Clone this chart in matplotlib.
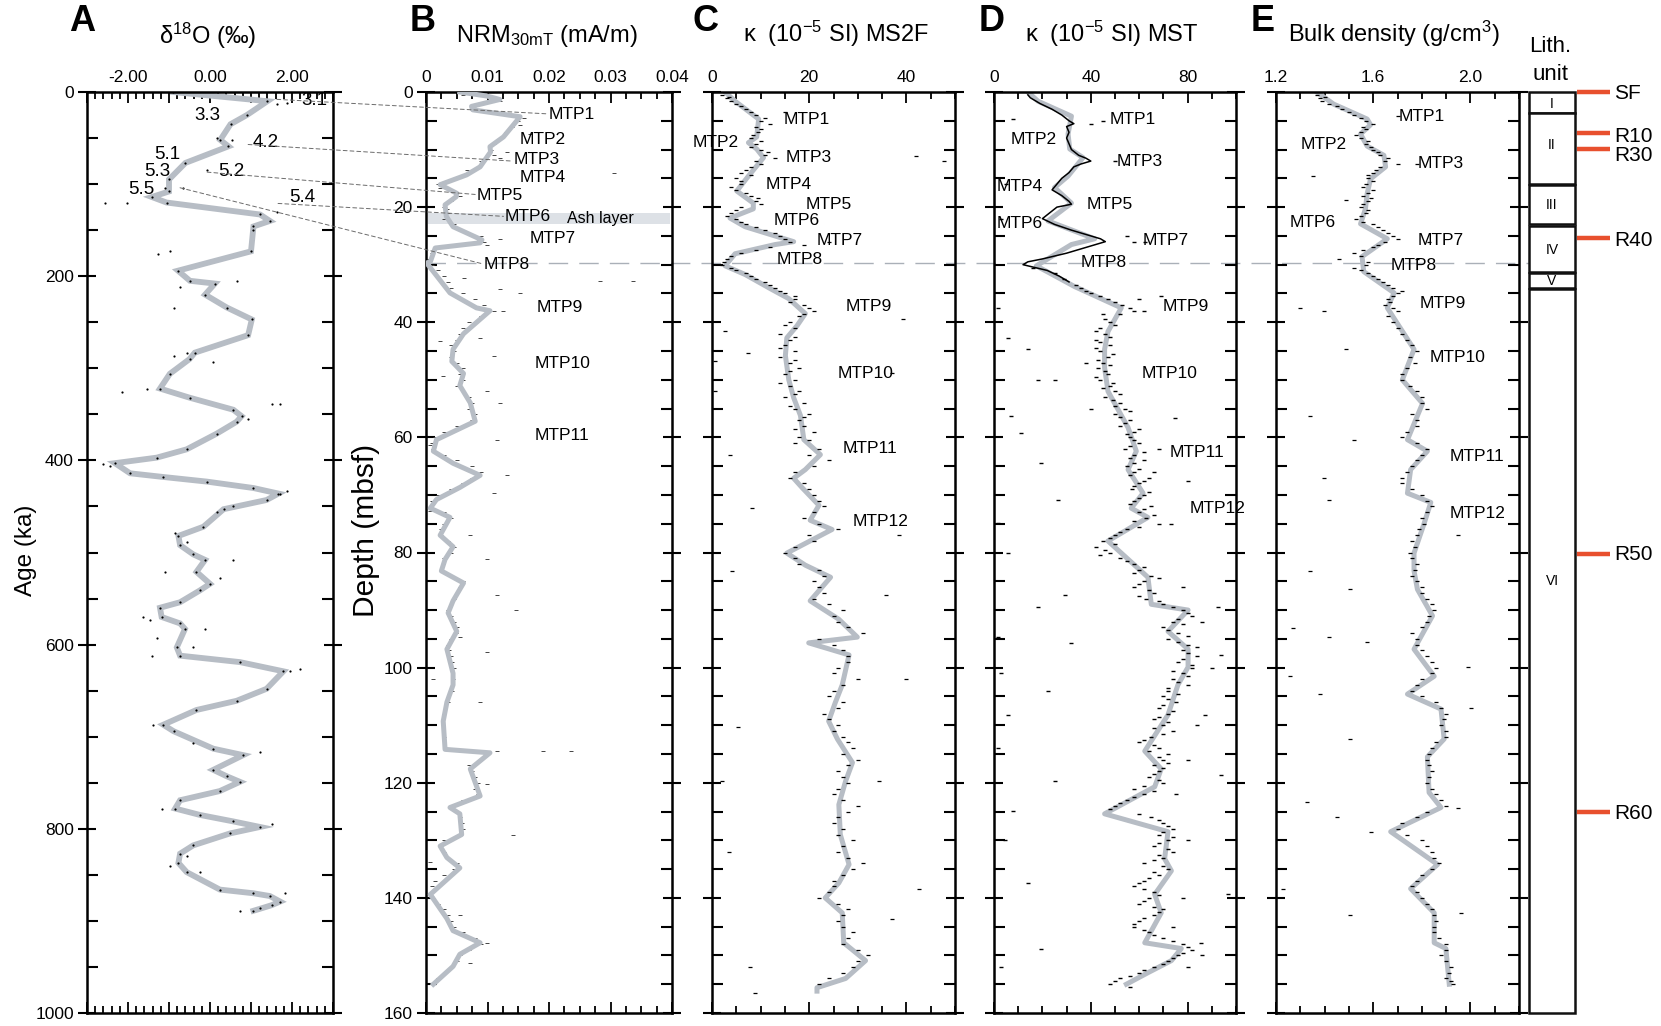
import matplotlib
matplotlib.use('Agg')
import matplotlib.pyplot as plt
from matplotlib.ticker import MultipleLocator, FuncFormatter
from matplotlib.patches import Rectangle, ConnectionPatch
from matplotlib.lines import Line2D

plt.rcParams['font.family'] = ['Liberation Sans', 'DejaVu Sans']
plt.rcParams['mathtext.fontset'] = 'custom'
plt.rcParams['mathtext.rm'] = 'Liberation Sans'
plt.rcParams['mathtext.it'] = 'Liberation Sans:italic'
plt.rcParams['mathtext.bf'] = 'Liberation Sans:bold'

# ---------------- DATA ----------------
# Panel A: benthic d18O vs age (smoothed curve, ka, permil)
a_curve = [(0,-0.9),(10,1.4),(25,0.9),(35,0.5),(52,0.25),(59,0.45),(77,-0.6),(95,-1.0),(108,-1.0),
           (114,-1.42),(120,-1.06),(133,1.22),(140,1.46),(146,1.06),(173,1.0),(194,-0.78),(205,-0.49),
           (208,0.12),(220,-0.12),(234,0.41),(247,1.02),(264,0.93),(283,-0.37),(290,-0.5),(306,-0.98),
           (322,-1.22),(332,-0.49),(345,0.57),(352,0.77),(358,0.65),(371,0.16),(388,-0.57),(397,-1.30),
           (403,-2.32),(414,-1.95),(418,-1.14),(423,-0.08),(430,1.06),(436,1.67),(443,1.38),(453,0.33),
           (472,-0.16),(482,-0.77),(492,-0.73),(502,-0.41),(508,-0.12),(521,-0.33),(534,0.0),(541,-0.24),
           (554,-0.73),(560,-1.22),(570,-1.18),(577,-0.73),(583,-0.61),(603,-0.81),(612,-0.73),(619,0.73),
           (629,1.79),(648,1.38),(661,0.65),(671,-0.33),(687,-1.14),(694,-0.89),(713,0.08),(720,0.81),
           (736,0.08),(743,0.41),(749,0.73),(759,0.24),(769,-0.73),(778,-0.85),(785,-0.24),(792,0.57),
           (798,1.22),(805,0.49),(818,-0.41),(827,-0.73),(837,-0.77),(847,-0.57),(866,0.24),(870,1.06),
           (873,1.46),(879,1.71),(883,1.50),(889,1.06)]
a_dots = [(13,1.63),(12,1.87),(52,0.53),(50,0.16),(85,-0.08),(104,-1.1),(104,-0.65),(120,-2.56),(120,-2.03),
          (130,1.63),(150,1.06),(176,-1.26),(173,-0.97),(205,0.65),(212,-0.73),(234,-0.89),(283,-0.57),
          (287,-0.89),(293,0.08),(322,-1.54),(326,-2.15),(339,1.5),(339,1.71),(355,0.93),(404,-2.6),
          (406,-2.44),(433,1.87),(436,1.71),(449,0.57),(456,0.16),(479,-0.85),(489,-0.57),(508,0.57),
          (521,-1.1),(528,0.24),(570,-1.63),(573,-1.46),(583,-0.12),(593,-1.3),(603,-0.41),(612,-1.42),
          (629,1.95),(627,2.2),(687,-1.38),(707,-0.41),(717,1.22),(778,-1.18),(795,1.5),(830,-0.57),
          (840,-0.98),(847,-0.24),(870,1.83),(889,0.73),(886,1.22)]
a_stage_labels = ['3.1', '3.3', '4.2', '5.1', '5.3', '5.2', '5.5', '5.4']
a_stage_pos = [(2.24,8.7),(-0.39,25),(1.05,55),(-1.37,68),(-1.61,86),(0.2,86),(-2.0,106),(1.93,115)]

# Panel B: NRM30mT (mA/m) vs depth (mbsf)
b_curve = [(0,0.0055),(0.7,0.0099),(1.3,0.012),(2.5,0.0074),(3.1,0.0076),(4.3,0.0153),(7.8,0.0126),
           (9.5,0.0104),(10.4,0.0105),(13,0.0088),(14.4,0.0066),(16.1,0.0023),(17.6,0.005),(18.2,0.0049),
           (19.6,0.0031),(21.6,0.0033),(23.4,0.0044),(25.7,0.0091),(26.2,0.0088),(27.1,0.0015),
           (29.5,0.0007),(29.7,0.0001),(34.9,0.0039),(37.5,0.0082),(38,0.0104),(42,0.0061),(44.7,0.0044),
           (46.8,0.0042),(48.9,0.0061),(51,0.0055),(54,0.0072),(57.2,0.008),(60.4,0.0017),(62.4,0.0012),
           (64.5,0.0044),(66.6,0.0088),(68.7,0.0055),(70.8,0.0017),(72.3,0.0007),(73.9,0.0039),(77,0.0023),
           (79,0.0044),(81.2,0.0031),(83.2,0.0025),(85.3,0.0061),(88.4,0.0044),(90.5,0.0036),(93.7,0.005),
           (96.8,0.0034),(101,0.0044),(103,0.0044),(106,0.0034),(109.3,0.0028),(114.2,0.0031),(114.8,0.0104),
           (117.6,0.0072),(122.3,0.0088),(124.3,0.0039),(125.4,0.0055),(129,0.0058),(131,0.0023),
           (133,0.0034),(134.8,0.0055),(139.4,0.0007),(143.6,0.0034),(145.7,0.0044),(147.8,0.0088),
           (149.8,0.0055),(151.9,0.0044),(155,0.0012)]
b_dots = [(0.5,0.006),(1,0.011),(1.5,0.012),(2,0.009),(3,0.008),(3.1,0.0099),(4,0.014),(4.5,0.016),(5,0.015),
          (5.7,0.0153),(6,0.014),(7,0.013),(7.3,0.0169),(8,0.012),(9,0.011),(10,0.0105),(10.4,0.0131),
          (11,0.011),(11.4,0.012),(12,0.009),(13,0.0085),(13.5,0.0066),(14,0.007),(14,0.0305),(15,0.005),
          (16,0.002),(16.6,0.0023),(17,0.004),(18,0.0055),(19,0.004),(20,0.003),(20.3,0.0034),(21,0.0035),
          (22,0.003),(23,0.0045),(23.9,0.0055),(24,0.006),(25,0.009),(25.5,0.012),(26,0.0095),(26.5,0.0099),
          (27,0.003),(28,0.001),(29,0.0005),(29.1,0.0007),(30,0.001),(31,0.002),(32,0.003),(32.3,0.0061),
          (32.8,0.0337),(32.8,0.0283),(33,0.0035),(34,0.004),(34.3,0.012),(34.9,0.0153),(35,0.006),(36,0.008),
          (37,0.0095),(38,0.011),(38,0.0126),(39,0.009),(40,0.007),(41,0.006),(42,0.0055),(42.7,0.0088),
          (43,0.005),(43.2,0.0023),(44,0.004),(45,0.0045),(45.8,0.011),(46,0.004),(47,0.005),(48,0.006),
          (49,0.0055),(49.4,0.0028),(50,0.006),(51,0.005),(52,0.006),(52,0.0099),(53,0.007),(54,0.0075),
          (54.1,0.012),(55,0.007),(56,0.008),(57,0.0075),(58,0.005),(59,0.003),(60,0.0015),(60.4,0.0115),
          (61,0.001),(61.4,0.0007),(62,0.0012),(63,0.003),(64,0.005),(65,0.0075),(66,0.009),(66.6,0.0131),
          (67,0.0075),(68,0.006),(69,0.004),(69.7,0.011),(70,0.002),(71,0.001),(72,0.0008),(72.8,0.0007),
          (73,0.003),(74,0.004),(75,0.003),(76,0.0025),(77,0.0025),(77,0.0072),(78,0.0035),(79,0.0045),
          (80,0.004),(81,0.003),(81.2,0.0099),(82,0.0028),(83,0.0025),(84,0.004),(85,0.006),(86,0.0055),
          (87,0.005),(87.4,0.0115),(88,0.0045),(89,0.004),(90,0.0035),(90,0.0147),(91,0.004),(92,0.0045),
          (93,0.005),(94,0.0048),(94.7,0.0055),(95,0.004),(96,0.0035),(97,0.0038),(97.3,0.0099),(98,0.004),
          (99,0.0042),(100,0.0045),(102,0.0044),(102,0.0012),(104,0.0042),(106,0.0035),(106,0.0088),
          (108,0.003),(110,0.0028),(112,0.003),(114,0.0032),(114.5,0.0191),(114.5,0.0235),(114.5,0.0115),
          (115,0.01),(116,0.009),(117,0.007),(118,0.0075),(119,0.008),(120,0.0085),(120.2,0.0099),(121,0.008),
          (122,0.0085),(123,0.006),(124,0.004),(125,0.005),(126,0.0056),(127,0.0058),(128,0.006),(129,0.0055),
          (129,0.0142),(130,0.003),(131,0.0025),(132,0.003),(133,0.0035),(133.7,0.0007),(134,0.005),
          (135,0.0045),(136,0.003),(137,0.0015),(138,0.001),(139,0.0008),(140,0.0012),(141,0.002),(142,0.003),
          (143,0.0035),(143,0.0055),(144,0.004),(145,0.0045),(146,0.006),(147,0.008),(147.8,0.0099),
          (148,0.009),(149,0.007),(150,0.0055),(151,0.005),(151.4,0.0072),(152,0.004),(153,0.003),
          (154,0.002),(155,0.0012)]
b_mtp_labels = ['MTP1','MTP2','MTP3','MTP4','MTP5','MTP6','MTP7','MTP8','MTP9','MTP10','MTP11']
b_mtp_pos = [(0.0200,3.85),(0.0153,8.3),(0.0142,11.8),(0.0153,14.9),(0.0082,18.0),(0.0128,21.7),
             (0.0169,25.5),(0.0093,29.9),(0.0180,37.5),(0.0177,47.1),(0.0177,59.6)]
ash_layer = (21.1, 23.0)

# Panel C: magnetic susceptibility MS2F (1e-5 SI) vs depth
c_curve = [(0,2.7),(1.6,4.75),(4.7,9.6),(7.8,9.2),(8.8,7.5),(9.9,9.2),(11.4,10.6),(14.6,7.5),(17.2,5.1),
           (19.3,8.5),(20.3,8.5),(21.9,3.7),(23.4,6.8),(26.0,16.8),(26.5,13.0),(28.1,4.75),(30.2,2.7),
           (31.7,6.8),(34.3,12.3),(35.9,15.8),(38.5,19.2),(40.6,17.5),(42.7,15.4),(45.8,15.1),(50,15.8),
           (53.1,16.8),(56.2,18.2),(60.4,18.9),(63,22.3),(65.6,19.2),(67.1,16.8),(68.7,18.5),(71.8,22.0),
           (74.4,20.2),(76,24.7),(80.1,15.4),(82.2,19.2),(84.3,24.4),(88.4,20.2),(91.6,26.1),(94.7,29.9),
           (95.7,19.9),(97.8,28.2),(103,26.8),(106,25.4),(109.3,24.0),(112.4,25.8),(116.5,28.9),
           (119.7,27.5),(123.8,26.1),(129,26.4),(134.2,28.2),(137.4,26.1),(140,23.3),(142.6,26.8),
           (147.8,27.1),(150.9,31.6),(154,27.5),(155.6,21.6),(156.2,21.6)]
c_dots = [(0.5,2),(1,3),(1.5,4),(2,5),(3,7),(3.5,15),(4,9),(5,10),(5.5,12),(6,9),(7,9.5),(8,8),(9,9),(10,10),
          (11,11),(11.2,42),(12,47.7),(11.5,13),(12,9),(13,8),(14,6),(15,5),(16,6),(17,5),(18,8),(19,9),
          (19.5,10),(20,6),(21,4),(22,5),(23,7),(24,11),(25,14),(26,16),(26.5,19),(26,24),(27,12),(28,6),
          (29,3),(30,2),(31,5),(32,8),(33,11),(34,13),(35,15),(36,17),(37,19),(38,21),(39,18),(39.5,39.2),
          (40,16),(41,17),(41.6,2.7),(42,14),(43,16),(44,15),(45,17),(45.3,7.5),(46,14),(46.8,0.6),(47,16),
          (48,18),(48.9,37.1),(49,15),(50,17),(51,16),(52,18),(52,0.6),(53,15),(54,19),(55,17),(56,20),
          (57,18),(58,19),(59,21),(60,18),(62,22),(62.4,29.5),(63,3.7),(64,24),(66,17),(68,19),(70,21),
          (72,23),(72.3,8.2),(74,19),(76,26),(77,38.5),(78,21),(80,15),(82,18),(83.2,4.1),(84,23),(86,22),
          (87.4,35.7),(88,21),(90,27),(92,26),(94,31),(96,25),(98,28),(100,26),(102,30),(102,39.9),(104,25),
          (106,27),(108,23),(110,26),(110.3,5.4),(112,27),(114,29),(116,30),(118,26),(119.7,2),(119.7,34.4),
          (120,28),(122,25),(124,30),(126,26),(128,27),(130,29),(132,26),(132,3.4),(134,31),(136,27),
          (138,25),(138.4,42.6),(140,22),(142,28),(143.6,37.1),(144,26),(146,29),(148,27),(150,32),(152,29),
          (152,7.9),(154,24),(155,22),(156.6,8.9),
          (0.8,3.5),(2.5,6),(3.5,8),(4.5,11),(6.5,10),(7.5,8.5),(8.5,10),(9.5,8),(10.5,11.5),(12.5,10),
          (13.5,7),(14.5,8),(15.5,6),(16.5,4),(17.5,7),(18.5,9.5),(20.5,5),(21.5,3),(22.5,6),(23.5,9),
          (24.5,13),(25.5,15),(27.5,9),(28.5,4),(29.5,2.5),(30.5,4),(31.5,7),(32.5,9),(33.5,12),(34.5,14),
          (35.5,17),(36.5,16),(37.5,20),(38.5,19),(40.5,15),(42.5,17),(44.5,14),(46.5,17),(48.5,16),
          (50.5,14),(52.5,17),(54.5,16),(56.5,19),(58.5,17),(60.5,20),(61,17),(63,20),(65,21),(67,16),
          (69,20),(71,22),(73,21),(75,22),(77,20),(79,17),(81,17),(83,22),(85,21),(87,23),(89,24),(91,25),
          (93,28),(95,22),(97,27),(99,28),(101,25),(103,27),(105,24),(107,26),(109,24),(111,25),(113,28),
          (115,27),(117,28),(119,27),(121,26),(123,27),(125,28),(127,25),(129,26),(131,27),(133,28),
          (135,29),(137,25),(139,24),(141,26),(143,27),(145,27),(147,28),(149,30),(151,30),(153,27)]
c_mtp_labels = ['MTP1','MTP2','MTP3','MTP4','MTP5','MTP6','MTP7','MTP8','MTP9','MTP10','MTP11','MTP12']
c_mtp_pos = [(14.7,4.7),(-3.9,8.7),(15.1,11.4),(11.0,16.1),(19.2,19.6),(12.7,22.4),(21.6,25.8),
             (13.4,29.1),(27.5,37.3),(25.8,48.9),(26.8,61.9),(28.9,74.7)]

# Panel D: magnetic susceptibility MST (1e-5 SI) vs depth
d_curve = [(0,14),(1.6,18.2),(4.2,32),(7.3,30.6),(9.9,31.3),(11.4,36.8),(14.6,30.6),(16.6,25),(19.3,32),
           (22.4,22.3),(25.5,41.6),(26.5,32),(30.2,17.5),(33.8,33.3),(37.5,52.6),(41.6,47.1),(44.7,45.7),
           (47.9,45.7),(52,47.1),(58.3,55.4),(62.4,58.8),(65.6,55.4),(69.7,61.6),(72.3,56.7),(73.9,63.6),
           (78,47.1),(84.3,63.6),(89,65),(90,80.2),(93.7,71.9),(96.8,80.2),(99.9,80.2),(103,76),(108.2,71.9),
           (114.5,62.3),(117.6,69.1),(120.7,66.4),(125.4,45.7),(128.5,71.9),(133.2,70.5),(135.3,73.3),
           (139.4,66.4),(142.6,69.1),(147.8,62.3),(148.8,77.4),(150.9,73.3),(153,63.6),(155,54.7)]
# upper (0-30 m) nearly continuous measurement trace
d_trace = [(0.5,14),(1,15),(2,19),(3,24),(4,28),(5,31),(5.5,33),(6,30),(7,31),(8,30),(9,31),(10,32),(11,35),
           (11.5,38),(12,40),(12.5,36),(13,33),(14,31),(15,28),(16,26),(17,24),(18,28),(19,31),(19.5,32),
           (20,26),(21,23),(22,20),(23,25),(24,32),(25,40),(25.5,44),(26,46),(26.5,42),(27,38),(28,30),
           (29,20),(29.5,14),(30,12),(31,22),(32,27),(33,31)]
d_dots = [(37.5,1.7),(42.7,5.8),(44.7,14),(50,18.2),(50,25),(56.2,7.2),(59.3,11.3),(64.5,19.6),(70.8,26.4),
          (74.9,1.7),(80.1,5.8),(87.4,29.2),(89.5,18.2),(94.7,1.7),(95.7,32),(101,3),(104,22.3),(108.2,5.8),
          (114,1.7),(119.7,25),(124.9,7.9),(130,4.4),(137.4,14),(148.8,19.6),(152,3),(89.5,92.6),(97.8,94),
          (108.2,87),(118.6,94),(147.8,85.7),(139.4,96.7),(67.6,80.2),(56.7,74.7),(35.4,69.1),(26,62.3),
          (5,45),(5.5,40),(12,50),(12.5,55),(4.7,8),(16,5),(22,3),(25,55),(26,58),(36,60),(38,62),(47,38),
          (55,40),(62,68),(66,66),(75,73),(86,78),(92,86),(100,90),(110,84),(116,80),(122,75),(130,80),
          (140,78),(145,74),(150,86),(152,80),
          (34,36),(35,40),(36,47),(37,53),(38,58),(38.5,45),(40,48),(41,44),(42,46),(43,42),(44,48),(45,44),
          (46,47),(47,45),(48,43),(49,47),(50,44),(51,48),(52,50),(53,46),(54,52),(55,54),(56,50),(57,56),
          (58,52),(59,58),(60,56),(61,60),(62,54),(63,58),(64,62),(65,55),(66,58),(67,64),(68,60),(69,57),
          (70,62),(71,58),(72,65),(73,60),(74,63),(75,68),(76,55),(77,50),(78,45),(79,42),(80,48),(81,52),
          (82,58),(83,60),(84,65),(85,62),(86,58),(87,66),(88,63),(89,70),(90,78),(91,82),(92,74),(93,70),
          (94,76),(95,72),(96,80),(97,78),(98,84),(99,76),(100,82),(101,78),(102,74),(103,80),(104,72),
          (105,70),(106,75),(107,68),(108,72),(109,66),(110,70),(111,74),(112,65),(113,60),(114,68),(115,72),
          (116,70),(117,66),(118,68),(119,64),(120,70),(121,58),(122,62),(123,55),(124,50),(126,65),(127,70),
          (128,74),(129,68),(130,72),(131,66),(132,74),(133,70),(134,62),(135,72),(136,68),(137,62),(138,58),
          (139,66),(140,64),(141,60),(142,70),(143,66),(144,60),(145,58),(146,64),(147,70),(148,78),(149,82),
          (150,76),(151,72),(152,66),(153,60),(154,52),(155,48),(155.5,56),
          (30.5,16),(31.5,25),(32.5,29),(33.5,34),(34.5,38),(35.5,44),(36.5,50),(37.5,56),(38.5,52),
          (39.5,46),(40.5,50),(41.5,42),(42.5,48),(43.5,44),(44.5,42),(45.5,49),(46.5,43),(47.5,48),
          (48.5,46),(49.5,42),(50.5,49),(51.5,45),(52.5,52),(53.5,49),(54.5,50),(55.5,56),(56.5,52),
          (57.5,54),(58.5,60),(59.5,55),(60.5,58),(61.5,56),(62.5,62),(63.5,56),(64.5,58),(65.5,60),
          (66.5,56),(67.5,62),(68.5,58),(69.5,64),(70.5,60),(71.5,56),(72.5,62),(73.5,66),(74.5,58),
          (75.5,60),(76.5,52),(77.5,48),(78.5,50),(79.5,46),(80.5,44),(81.5,55),(82.5,62),(83.5,58),
          (84.5,68),(85.5,60),(86.5,64),(87.5,60),(88.5,68),(89.5,74),(90.5,80),(91.5,76),(92.5,78),
          (93.5,72),(94.5,80),(95.5,76),(96.5,84),(97.5,80),(98.5,78),(99.5,82),(100.5,74),(101.5,80),
          (102.5,76),(103.5,72),(104.5,76),(105.5,72),(106.5,70),(107.5,74),(108.5,68),(109.5,72),
          (110.5,66),(111.5,70),(112.5,62),(113.5,66),(114.5,64),(115.5,68),(116.5,72),(117.5,70),
          (118.5,66),(119.5,68),(120.5,62),(121.5,66),(122.5,58),(123.5,52),(124.5,48),(125.5,60),
          (126.5,68),(127.5,72),(128.5,70),(129.5,74),(130.5,68),(131.5,72),(132.5,68),(133.5,66),
          (134.5,70),(135.5,66),(136.5,64),(137.5,60),(138.5,62),(139.5,68),(140.5,62),(141.5,66),
          (142.5,68),(143.5,62),(144.5,58),(145.5,62),(146.5,66),(147.5,74),(148.5,80),(149.5,78),
          (150.5,74),(151.5,70),(152.5,62),(153.5,56),(154.5,50)]
d_mtp_labels = ['MTP1','MTP2','MTP3','MTP4','MTP5','MTP6','MTP7','MTP8','MTP9','MTP10','MTP11','MTP12']
d_mtp_pos = [(47.8,4.7),(6.9,8.3),(50.6,12.0),(1.0,16.4),(38.2,19.6),(1.0,22.9),(61.6,25.8),(35.8,29.7),
             (69.8,37.3),(60.9,48.9),(72.6,62.6),(80.9,72.4)]

# Panel E: bulk density (g/cm3) vs depth
e_curve = [(0,1.368),(2.1,1.437),(4.7,1.575),(5.7,1.589),(7.3,1.548),(9.4,1.575),(11,1.644),(13,1.651),
           (15.1,1.589),(17.7,1.575),(20.3,1.568),(22.9,1.548),(25.5,1.658),(28.6,1.554),(31.2,1.561),
           (34.9,1.686),(37.5,1.658),(44.7,1.768),(50,1.72),(54.1,1.803),(60.4,1.741),(62.4,1.823),
           (65.6,1.754),(69.7,1.741),(71.3,1.837),(74.9,1.81),(80.1,1.768),(83.2,1.768),(86.4,1.782),
           (91,1.844),(96.8,1.768),(101.5,1.851),(104.6,1.741),(107.2,1.879),(112.4,1.892),(115.5,1.823),
           (121.7,1.83),(124.3,1.879),(128.5,1.672),(134.2,1.865),(138.4,1.754),(142.6,1.851),(147.8,1.851),
           (148.8,1.899),(155,1.913)]
e_dots = [(0.5,1.37),(1,1.38),(2,1.42),(3,1.47),(4,1.52),(4.2,1.70),(5,1.57),(5.5,1.6),(6,1.56),(7,1.55),
          (8,1.55),(9,1.57),(10,1.6),(11,1.63),(12,1.65),(12.5,1.7),(12.5,1.78),(13,1.63),(14,1.6),
          (14.6,1.354),(15,1.58),(16,1.57),(17,1.6),(18,1.56),(18.7,1.49),(19,1.58),(20,1.55),(21,1.57),
          (22,1.53),(23,1.6),(24,1.64),(25,1.68),(26,1.65),(26,1.83),(27,1.6),(28,1.52),(29,1.46),(29,1.78),
          (30,1.57),(31,1.55),(32,1.6),(33,1.64),(34,1.68),(35,1.7),(36,1.66),(37,1.65),(37.5,1.3),
          (38,1.7),(38,1.396),(40,1.68),(42,1.72),(44,1.76),(44.7,1.49),(46,1.75),(48,1.74),(50,1.72),
          (52,1.78),(54,1.8),(56,1.76),(56.2,1.34),(58,1.78),(60,1.72),(60.4,1.52),(62,1.82),(64,1.78),
          (66,1.74),(67.1,1.396),(68,1.72),(70,1.8),(70.8,1.42),(72,1.84),(74,1.8),(76,1.79),(77,1.948),
          (78,1.76),(80,1.75),(82,1.78),(83.2,1.34),(84,1.76),(86,1.8),(86.4,1.506),(88,1.82),(90,1.85),
          (92,1.82),(93.1,1.27),(94,1.76),(94.7,1.42),(95.5,1.575),(96,1.78),(98,1.82),(99.9,1.989),
          (100,1.86),(101.5,1.258),(102,1.8),(104,1.76),(104.6,1.382),(106,1.86),(107,2.003),(108,1.9),
          (110,1.88),(112,1.9),(112.4,1.506),(114,1.84),(116,1.82),(118,1.84),(120,1.82),(122,1.86),
          (123.3,1.327),(124,1.9),(124.3,1.948),(126,1.78),(126,1.45),(128,1.7),(128.5,1.589),(130,1.8),
          (132,1.84),(134,1.87),(136,1.8),(138,1.76),(138.4,1.23),(140,1.8),(142,1.84),(142.6,1.96),
          (143,1.506),(144,1.86),(146,1.85),(148,1.9),(150,1.88),(152,1.92),(154,1.9),(155,1.93),
          (0.8,1.40),(1.5,1.39),(2.5,1.45),(3.5,1.50),(4.5,1.55),(6.5,1.57),(7.5,1.53),(8.5,1.58),
          (9.5,1.59),(10.5,1.62),(11.5,1.66),(13.5,1.61),(14.5,1.58),(15.5,1.60),(16.5,1.56),(17.5,1.58),
          (18.5,1.59),(19.5,1.56),(20.5,1.58),(21.5,1.55),(22.5,1.56),(23.5,1.62),(24.5,1.66),(25.5,1.7),
          (26.5,1.62),(27.5,1.56),(28.5,1.55),(29.5,1.58),(30.5,1.52),(31.5,1.58),(32.5,1.62),(33.5,1.66),
          (34.5,1.72),(35.5,1.68),(36.5,1.67),(37.5,1.68),(39,1.66),(41,1.70),(43,1.74),(45,1.78),
          (47,1.77),(49,1.72),(51,1.75),(53,1.80),(55,1.82),(57,1.78),(59,1.74),(61,1.78),(63,1.80),
          (65,1.76),(67,1.72),(69,1.76),(71,1.82),(73,1.82),(75,1.81),(77,1.78),(79,1.77),(81,1.76),
          (83,1.77),(85,1.78),(87,1.80),(89,1.84),(91,1.83),(93,1.80),(95,1.78),(97,1.80),(99,1.84),
          (101,1.84),(103,1.78),(105,1.80),(107,1.88),(109,1.89),(111,1.9),(113,1.86),(115,1.83),
          (117,1.83),(119,1.83),(121,1.84),(123,1.88),(125,1.82),(127,1.72),(129,1.74),(131,1.82),
          (133,1.85),(135,1.84),(137,1.78),(139,1.78),(141,1.82),(143,1.85),(145,1.85),(147,1.87),
          (149,1.9),(151,1.9),(153,1.91),(154.5,1.92)]
e_mtp_labels = ['MTP1','MTP2','MTP3','MTP6','MTP7','MTP8','MTP9','MTP10','MTP11','MTP12']
e_mtp_pos = [(1.706,4.2),(1.302,9.1),(1.782,12.5),(1.258,22.7),(1.782,25.8),(1.672,30.2),(1.789,36.7),
             (1.834,46.1),(1.913,63.3),(1.913,73.2)]

# Lithologic units (top, bottom, label, label depth)
lith_names = ['I', 'II', 'III', 'IV', 'V', 'VI']
lith_top = [0, 3.6, 16.2, 23.2, 31.4, 34.2]
lith_bot = [3.6, 16.0, 23.0, 31.2, 34.0, 160]
lith_label_depth = [2.0, 9.2, 19.6, 27.4, 32.8, 85]
# Reflectors / seafloor
refl_names = ['SF', 'R10', 'R30', 'R40', 'R50', 'R60']
refl_depth = [0, 7.1, 9.9, 25.3, 80.3, 125.1]
refl_label_depth = [0.3, 7.8, 11.0, 25.8, 80.4, 125.4]

# Correlation tie lines A (d18O, age) -> B (NRM, depth)
tie_from = [(1.63, 8), (0.93, 57), (-0.07, 87), (1.66, 121), (-0.73, 104)]
tie_to = [(0.0198, 3.8), (0.0140, 12.0), (0.0080, 17.8), (0.0126, 21.6), (0.0090, 29.8)]
ref_depth_line = 29.7

# ---------------- FIGURE ----------------
W, H = 1661, 1026
fig = plt.figure(figsize=(W / 100, H / 100), dpi=100)
TOP, BOT = 92, 1013

def add_ax(l, r):
    ax = fig.add_axes([l / W, 1 - BOT / H, (r - l) / W, (BOT - TOP) / H])
    ax.set_facecolor('none')
    return ax

GRAY = '#b7bdc5'
FS_TICK = 12.5
FS_MTP = 12.5

def unzip(pairs):
    return [p[0] for p in pairs], [p[1] for p in pairs]

def style(ax, xlim, xmaj, xmin, fmt, ylim, ymaj, ymin, ylabels):
    ax.set_xlim(*xlim)
    ax.set_ylim(*ylim)
    ax.xaxis.set_major_locator(MultipleLocator(xmaj))
    ax.xaxis.set_minor_locator(MultipleLocator(xmin))
    ax.xaxis.set_major_formatter(FuncFormatter(fmt))
    ax.yaxis.set_major_locator(MultipleLocator(ymaj))
    ax.yaxis.set_minor_locator(MultipleLocator(ymin))
    ax.tick_params(axis='x', which='both', direction='in', top=True, bottom=True,
                   labeltop=True, labelbottom=False, labelsize=FS_TICK, width=1.3, pad=5)
    ax.tick_params(axis='x', which='major', length=8)
    ax.tick_params(axis='x', which='minor', length=5)
    ax.tick_params(axis='y', which='major', direction='inout', length=13, width=1.5, left=True,
                   right=True, labelleft=ylabels, labelsize=FS_TICK, pad=3)
    ax.tick_params(axis='y', which='minor', direction='in', length=8, width=1.5, left=True, right=True)
    for s in ax.spines.values():
        s.set_linewidth(1.8)

# Panel A
axA = add_ax(87, 333)
ages, vals = unzip(a_curve)
axA.plot(vals, ages, color=GRAY, lw=4.2, solid_joinstyle='miter', zorder=2)
da, dv = unzip(a_dots)
axA.scatter(dv, da, s=2.5, color='black', lw=0, zorder=3)
axA.scatter(vals, ages, s=2.5, color='black', lw=0, zorder=3)
style(axA, (-3, 3), 1, 0.2, lambda v, p: f'{v:.2f}' if abs(v) < 2.5 and round(v) % 2 == 0 else '',
      (1000, 0), 200, 50, True)
for lab, (x, y) in zip(a_stage_labels, a_stage_pos):
    axA.text(x, y, lab, fontsize=13.5, ha='left', va='center', zorder=4)

# Panel B
axB = add_ax(426, 672)
axB.axhspan(*ash_layer, xmin=0.01, xmax=0.99, color='#dde1e6', lw=0, zorder=1)
bd, bv = unzip(b_dots)
axB.scatter(bv, bd, s=6, marker='_', color='#444444', lw=0.7, zorder=2)
d, v = unzip(b_curve)
axB.plot(v, d, color=GRAY, lw=3.6, zorder=3)
style(axB, (0, 0.04), 0.01, 0.0025, lambda v, p: '0' if v == 0 else f'{v:.2f}',
      (160, 0), 20, 5, True)
for lab, (x, y) in zip(b_mtp_labels, b_mtp_pos):
    axB.text(x, y, lab, fontsize=FS_MTP, ha='left', va='center', zorder=5)
axB.text(0.0229, 21.9, 'Ash layer', fontsize=11.5, ha='left', va='center', zorder=5)

# Panel C
axC = add_ax(712, 955)
cd, cv = unzip(c_dots)
axC.scatter(cv, cd, s=6, marker='_', color='black', lw=0.9, zorder=3)
d, v = unzip(c_curve)
axC.plot(v, d, color=GRAY, lw=3.6, zorder=2)
style(axC, (0, 50), 20, 5, lambda v, p: f'{v:.0f}', (160, 0), 20, 5, False)
for lab, (x, y) in zip(c_mtp_labels, c_mtp_pos):
    axC.text(x, y, lab, fontsize=FS_MTP, ha='left', va='center', zorder=5, clip_on=False)

# Panel D
axD = add_ax(994, 1236)
d, v = unzip(d_curve)
axD.plot(v, d, color=GRAY, lw=3.6, zorder=2)
td, tv = unzip(d_trace)
axD.plot(tv, td, color='black', lw=1.1, zorder=3)
dd, dv = unzip(d_dots)
axD.scatter(dv, dd, s=10, marker='_', color='black', lw=1.0, zorder=3)
style(axD, (0, 100), 40, 10, lambda v, p: f'{v:.0f}', (160, 0), 20, 5, False)
for lab, (x, y) in zip(d_mtp_labels, d_mtp_pos):
    axD.text(x, y, lab, fontsize=FS_MTP, ha='left', va='center', zorder=5, clip_on=False)

# Panel E
axE = add_ax(1276, 1519)
d, v = unzip(e_curve)
axE.plot(v, d, color=GRAY, lw=3.6, zorder=2)
ed, ev = unzip(e_dots)
axE.scatter(ev, ed, s=6, marker='_', color='black', lw=0.9, zorder=3)
style(axE, (1.2, 2.2), 0.4, 0.1, lambda v, p: f'{v:.1f}', (160, 0), 20, 5, False)
for lab, (x, y) in zip(e_mtp_labels, e_mtp_pos):
    axE.text(x, y, lab, fontsize=FS_MTP, ha='left', va='center', zorder=5, clip_on=False)

# Lithology column
axL = add_ax(1529, 1575)
axL.set_xlim(0, 1)
axL.set_ylim(160, 0)
axL.axis('off')
for name, t, b, ld in zip(lith_names, lith_top, lith_bot, lith_label_depth):
    axL.add_patch(Rectangle((0, t), 1, b - t, facecolor='white', edgecolor='#111111', lw=1.8,
                            clip_on=False))
    axL.text(0.5, ld, name, fontsize=10, ha='center', va='center')
for name, dd_, ld in zip(refl_names, refl_depth, refl_label_depth):
    axL.plot([1.04, 1.75], [dd_, dd_], color='#e8502e', lw=3.2, clip_on=False, solid_capstyle='butt')
    axL.text(1.85, ld, name, fontsize=15, ha='left', va='center', clip_on=False)
fig.text(1550 / W, 1 - 47 / H, 'Lith.', fontsize=16, ha='center', va='center')
fig.text(1550 / W, 1 - 74 / H, 'unit', fontsize=16, ha='center', va='center')

# Tie lines A -> B
for (xa, ya), (xb, yb) in zip(tie_from, tie_to):
    con = ConnectionPatch(xyA=(xa, ya), coordsA=axA.transData, xyB=(xb, yb), coordsB=axB.transData,
                          color='#6b6b6b', lw=0.7, linestyle=(0, (4, 3)), zorder=1)
    fig.add_artist(con)

# Horizontal dashed reference depth line
y_disp = axB.transData.transform((0, ref_depth_line))
y_fig = fig.transFigure.inverted().transform(y_disp)[1]
fig.add_artist(Line2D([426 / W, 1562 / W], [y_fig, y_fig], color='#aab0b8', lw=1.0,
                      linestyle=(0, (14, 8)), zorder=-1))

# Titles and panel letters
letters = [('A', 82), ('B', 423), ('C', 705), ('D', 992), ('E', 1263)]
for t, x in letters:
    fig.text(x / W, 1 - 22 / H, t, fontsize=26, fontweight='bold', ha='center', va='center')
FS_T = 17
fig.text(208 / W, 1 - 36 / H, 'δ$^{18}$O (‰)', fontsize=FS_T, ha='center', va='center')
fig.text(547 / W, 1 - 36 / H, 'NRM$_{\\mathrm{30mT}}$ (mA/m)', fontsize=FS_T, ha='center', va='center')
fig.text(836 / W, 1 - 34 / H, 'κ  (10$^{\\mathrm{-5}}$ SI) MS2F', fontsize=FS_T, ha='center', va='center')
fig.text(1112 / W, 1 - 34 / H, 'κ  (10$^{\\mathrm{-5}}$ SI) MST', fontsize=FS_T, ha='center', va='center')
fig.text(1394 / W, 1 - 34 / H, 'Bulk density (g/cm$^{\\mathrm{3}}$)', fontsize=FS_T, ha='center', va='center')

fig.text(26 / W, 1 - 550 / H, 'Age (ka)', fontsize=17.5, rotation=90, ha='center', va='center')
fig.text(366 / W, 1 - 530 / H, 'Depth (mbsf)', fontsize=21.5, rotation=90, ha='center', va='center')

fig.savefig('out.png', dpi=100)
